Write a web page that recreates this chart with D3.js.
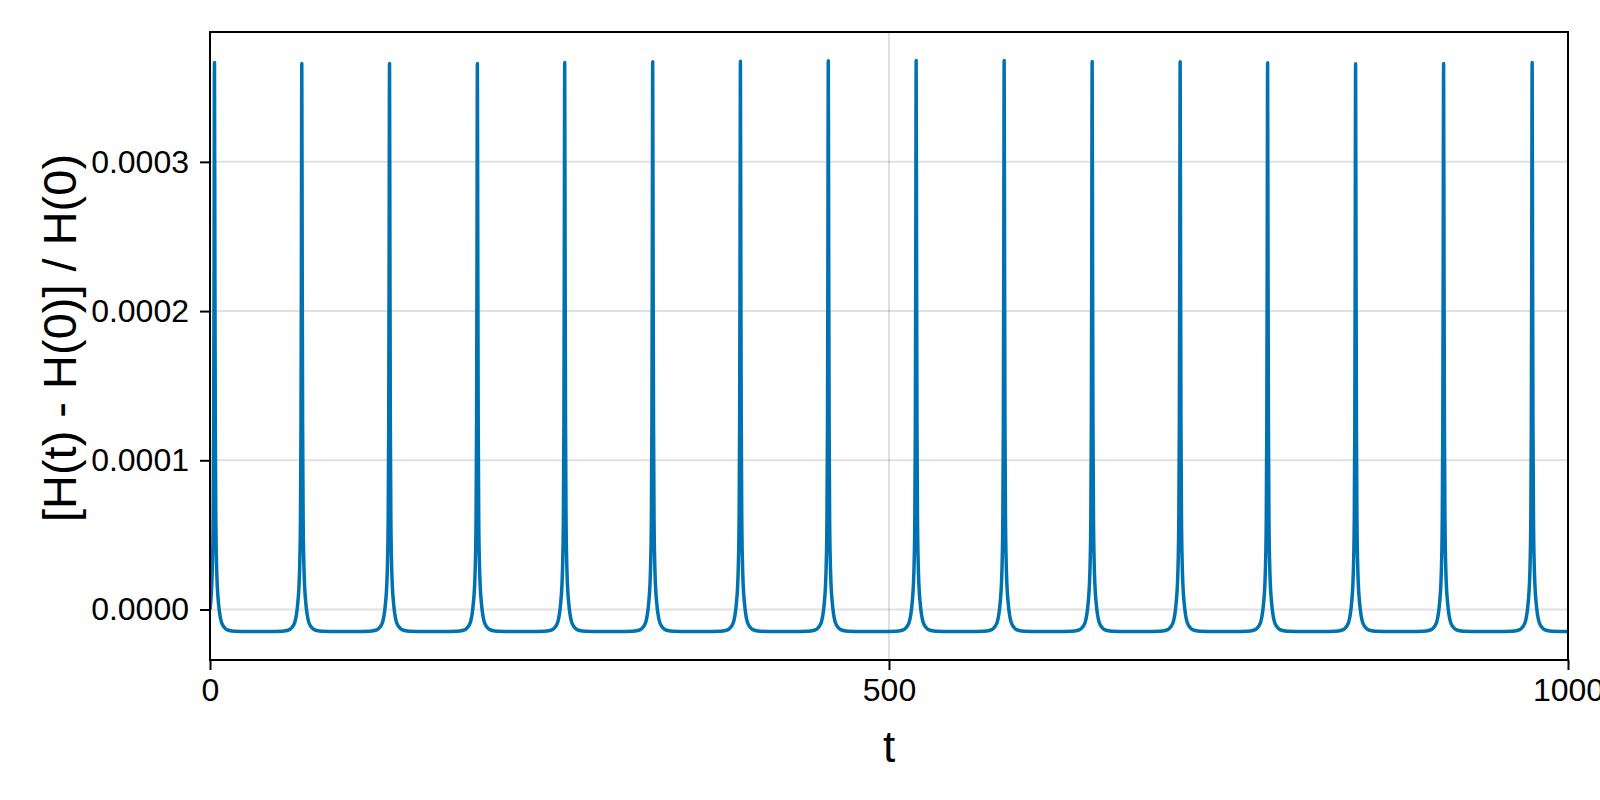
<!DOCTYPE html>
<html>
<head>
<meta charset="utf-8">
<script src="https://cdn.jsdelivr.net/npm/d3@7"></script>
<style>
  body { margin: 0; background: #fff; }
  svg { display: block; font-family: "Liberation Sans", Arial, sans-serif; }
</style>
</head>
<body>
<script>
// time samples, one row per spike (plus the last point)
const tValues = [
  0, 1.3, 1.8, 2.3, 2.7, 3.0, 3.3, 3.6, 3.9, 4.3, 4.8, 5.3, 6.3, 7.3, 8.3, 9.8, 11.8, 14.3, 18.3, 23.3,
  47.6, 52.6, 56.6, 59.1, 61.1, 62.6, 63.6, 64.6, 65.6, 66.1, 66.6, 67.0, 67.3, 67.6, 67.9, 68.2, 68.6, 69.1, 69.6, 70.6, 71.6, 72.6, 74.1, 76.1, 78.6, 82.6, 87.6,
  112.2, 117.2, 121.2, 123.7, 125.7, 127.2, 128.2, 129.2, 130.2, 130.7, 131.2, 131.6, 131.9, 132.2, 132.5, 132.8, 133.2, 133.7, 134.2, 135.2, 136.2, 137.2, 138.7, 140.7, 143.2, 147.2, 152.2,
  176.9, 181.9, 185.9, 188.4, 190.4, 191.9, 192.9, 193.9, 194.9, 195.4, 195.9, 196.3, 196.6, 196.9, 197.2, 197.5, 197.9, 198.4, 198.9, 199.9, 200.9, 201.9, 203.4, 205.4, 207.9, 211.9, 216.9,
  241.2, 246.2, 250.2, 252.7, 254.7, 256.2, 257.2, 258.2, 259.2, 259.7, 260.2, 260.6, 260.9, 261.2, 261.5, 261.8, 262.2, 262.7, 263.2, 264.2, 265.2, 266.2, 267.7, 269.7, 272.2, 276.2, 281.2,
  306.0, 311.0, 315.0, 317.5, 319.5, 321.0, 322.0, 323.0, 324.0, 324.5, 325.0, 325.4, 325.7, 326.0, 326.3, 326.6, 327.0, 327.5, 328.0, 329.0, 330.0, 331.0, 332.5, 334.5, 337.0, 341.0, 346.0,
  370.6, 375.6, 379.6, 382.1, 384.1, 385.6, 386.6, 387.6, 388.6, 389.1, 389.6, 390.0, 390.3, 390.6, 390.9, 391.2, 391.6, 392.1, 392.6, 393.6, 394.6, 395.6, 397.1, 399.1, 401.6, 405.6, 410.6,
  435.3, 440.3, 444.3, 446.8, 448.8, 450.3, 451.3, 452.3, 453.3, 453.8, 454.3, 454.7, 455.0, 455.3, 455.6, 455.9, 456.3, 456.8, 457.3, 458.3, 459.3, 460.3, 461.8, 463.8, 466.3, 470.3, 475.3,
  500.0, 505.0, 509.0, 511.5, 513.5, 515.0, 516.0, 517.0, 518.0, 518.5, 519.0, 519.4, 519.7, 520.0, 520.3, 520.6, 521.0, 521.5, 522.0, 523.0, 524.0, 525.0, 526.5, 528.5, 531.0, 535.0, 540.0,
  564.8, 569.8, 573.8, 576.3, 578.3, 579.8, 580.8, 581.8, 582.8, 583.3, 583.8, 584.2, 584.5, 584.8, 585.1, 585.4, 585.8, 586.3, 586.8, 587.8, 588.8, 589.8, 591.3, 593.3, 595.8, 599.8, 604.8,
  629.6, 634.6, 638.6, 641.1, 643.1, 644.6, 645.6, 646.6, 647.6, 648.1, 648.6, 649.0, 649.3, 649.6, 649.9, 650.2, 650.6, 651.1, 651.6, 652.6, 653.6, 654.6, 656.1, 658.1, 660.6, 664.6, 669.6,
  694.4, 699.4, 703.4, 705.9, 707.9, 709.4, 710.4, 711.4, 712.4, 712.9, 713.4, 713.8, 714.1, 714.4, 714.7, 715.0, 715.4, 715.9, 716.4, 717.4, 718.4, 719.4, 720.9, 722.9, 725.4, 729.4, 734.4,
  758.8, 763.8, 767.8, 770.3, 772.3, 773.8, 774.8, 775.8, 776.8, 777.3, 777.8, 778.2, 778.5, 778.8, 779.1, 779.4, 779.8, 780.3, 780.8, 781.8, 782.8, 783.8, 785.3, 787.3, 789.8, 793.8, 798.8,
  823.6, 828.6, 832.6, 835.1, 837.1, 838.6, 839.6, 840.6, 841.6, 842.1, 842.6, 843.0, 843.3, 843.6, 843.9, 844.2, 844.6, 845.1, 845.6, 846.6, 847.6, 848.6, 850.1, 852.1, 854.6, 858.6, 863.6,
  888.4, 893.4, 897.4, 899.9, 901.9, 903.4, 904.4, 905.4, 906.4, 906.9, 907.4, 907.8, 908.1, 908.4, 908.7, 909.0, 909.4, 909.9, 910.4, 911.4, 912.4, 913.4, 914.9, 916.9, 919.4, 923.4, 928.4,
  953.6, 958.6, 962.6, 965.1, 967.1, 968.6, 969.6, 970.6, 971.6, 972.1, 972.6, 973.0, 973.3, 973.6, 973.9, 974.2, 974.6, 975.1, 975.6, 976.6, 977.6, 978.6, 980.1, 982.1, 984.6, 988.6, 993.6,
  1000
];

// relative energy error at those times, in units of 1e-5
const dHe5 = [
  0, 1.7, 3.1, 6.0, 12.5, 23.5, 36.66, 23.5, 12.5, 6.0, 3.1, 1.7, 0.4, -0.37, -0.81, -1.12, -1.31, -1.41, -1.46, -1.47,
  -1.47, -1.46, -1.41, -1.31, -1.12, -0.81, -0.37, 0.4, 1.7, 3.1, 6.0, 12.5, 23.5, 36.59, 23.5, 12.5, 6.0, 3.1, 1.7, 0.4, -0.37, -0.81, -1.12, -1.31, -1.41, -1.46, -1.47,
  -1.47, -1.46, -1.41, -1.31, -1.12, -0.81, -0.37, 0.4, 1.7, 3.1, 6.0, 12.5, 23.5, 36.59, 23.5, 12.5, 6.0, 3.1, 1.7, 0.4, -0.37, -0.81, -1.12, -1.31, -1.41, -1.46, -1.47,
  -1.47, -1.46, -1.41, -1.31, -1.12, -0.81, -0.37, 0.4, 1.7, 3.1, 6.0, 12.5, 23.5, 36.59, 23.5, 12.5, 6.0, 3.1, 1.7, 0.4, -0.37, -0.81, -1.12, -1.31, -1.41, -1.46, -1.47,
  -1.47, -1.46, -1.41, -1.31, -1.12, -0.81, -0.37, 0.4, 1.7, 3.1, 6.0, 12.5, 23.5, 36.66, 23.5, 12.5, 6.0, 3.1, 1.7, 0.4, -0.37, -0.81, -1.12, -1.31, -1.41, -1.46, -1.47,
  -1.47, -1.46, -1.41, -1.31, -1.12, -0.81, -0.37, 0.4, 1.7, 3.1, 6.0, 12.5, 23.5, 36.71, 23.5, 12.5, 6.0, 3.1, 1.7, 0.4, -0.37, -0.81, -1.12, -1.31, -1.41, -1.46, -1.47,
  -1.47, -1.46, -1.41, -1.31, -1.12, -0.81, -0.37, 0.4, 1.7, 3.1, 6.0, 12.5, 23.5, 36.75, 23.5, 12.5, 6.0, 3.1, 1.7, 0.4, -0.37, -0.81, -1.12, -1.31, -1.41, -1.46, -1.47,
  -1.47, -1.46, -1.41, -1.31, -1.12, -0.81, -0.37, 0.4, 1.7, 3.1, 6.0, 12.5, 23.5, 36.77, 23.5, 12.5, 6.0, 3.1, 1.7, 0.4, -0.37, -0.81, -1.12, -1.31, -1.41, -1.46, -1.47,
  -1.47, -1.46, -1.41, -1.31, -1.12, -0.81, -0.37, 0.4, 1.7, 3.1, 6.0, 12.5, 23.5, 36.79, 23.5, 12.5, 6.0, 3.1, 1.7, 0.4, -0.37, -0.81, -1.12, -1.31, -1.41, -1.46, -1.47,
  -1.47, -1.46, -1.41, -1.31, -1.12, -0.81, -0.37, 0.4, 1.7, 3.1, 6.0, 12.5, 23.5, 36.79, 23.5, 12.5, 6.0, 3.1, 1.7, 0.4, -0.37, -0.81, -1.12, -1.31, -1.41, -1.46, -1.47,
  -1.47, -1.46, -1.41, -1.31, -1.12, -0.81, -0.37, 0.4, 1.7, 3.1, 6.0, 12.5, 23.5, 36.73, 23.5, 12.5, 6.0, 3.1, 1.7, 0.4, -0.37, -0.81, -1.12, -1.31, -1.41, -1.46, -1.47,
  -1.47, -1.46, -1.41, -1.31, -1.12, -0.81, -0.37, 0.4, 1.7, 3.1, 6.0, 12.5, 23.5, 36.71, 23.5, 12.5, 6.0, 3.1, 1.7, 0.4, -0.37, -0.81, -1.12, -1.31, -1.41, -1.46, -1.47,
  -1.47, -1.46, -1.41, -1.31, -1.12, -0.81, -0.37, 0.4, 1.7, 3.1, 6.0, 12.5, 23.5, 36.64, 23.5, 12.5, 6.0, 3.1, 1.7, 0.4, -0.37, -0.81, -1.12, -1.31, -1.41, -1.46, -1.47,
  -1.47, -1.46, -1.41, -1.31, -1.12, -0.81, -0.37, 0.4, 1.7, 3.1, 6.0, 12.5, 23.5, 36.57, 23.5, 12.5, 6.0, 3.1, 1.7, 0.4, -0.37, -0.81, -1.12, -1.31, -1.41, -1.46, -1.47,
  -1.47, -1.46, -1.41, -1.31, -1.12, -0.81, -0.37, 0.4, 1.7, 3.1, 6.0, 12.5, 23.5, 36.59, 23.5, 12.5, 6.0, 3.1, 1.7, 0.4, -0.37, -0.81, -1.12, -1.31, -1.41, -1.46, -1.47,
  -1.47, -1.46, -1.41, -1.31, -1.12, -0.81, -0.37, 0.4, 1.7, 3.1, 6.0, 12.5, 23.5, 36.66, 23.5, 12.5, 6.0, 3.1, 1.7, 0.4, -0.37, -0.81, -1.12, -1.31, -1.41, -1.46, -1.47,
  -1.47
];

const xTicks = [0, 500, 1000];
const yTicks = [0, 0.0001, 0.0002, 0.0003];
const xLabel = "t";
const yLabel = "[H(t) - H(0)] / H(0)";

const w = 1600;
const h = 800;
const margin = { left: 210, right: 32, top: 32, bottom: 140 };
const innerW = w - margin.left - margin.right;
const innerH = h - margin.top - margin.bottom;

const data = tValues.map((t, i) => ({ t: t, v: dHe5[i] * 1e-5 }));

// x limits fixed, y limits like Makie: 5% padding around the data
const [yMin, yMax] = d3.extent(data, (d) => d.v);
const pad = (yMax - yMin) * 0.05;

const x = d3.scaleLinear().domain([0, 1000]).range([0, innerW]);
const y = d3.scaleLinear().domain([yMin - pad, yMax + pad]).range([innerH, 0]);

const svg = d3
  .select("body")
  .append("svg")
  .attr("width", w)
  .attr("height", h);

const g = svg
  .append("g")
  .attr("transform", `translate(${margin.left}, ${margin.top})`);

// grid
g.append("g")
  .selectAll("line")
  .data(yTicks)
  .enter()
  .append("line")
  .attr("x1", 0)
  .attr("x2", innerW)
  .attr("y1", (d) => y(d))
  .attr("y2", (d) => y(d))
  .attr("stroke", "rgba(0,0,0,0.12)")
  .attr("stroke-width", 2);

g.append("g")
  .selectAll("line")
  .data(xTicks)
  .enter()
  .append("line")
  .attr("x1", (d) => x(d))
  .attr("x2", (d) => x(d))
  .attr("y1", 0)
  .attr("y2", innerH)
  .attr("stroke", "rgba(0,0,0,0.12)")
  .attr("stroke-width", 2);

g.append("clipPath")
  .attr("id", "clip")
  .append("rect")
  .attr("width", innerW)
  .attr("height", innerH);

const line = d3
  .line()
  .curve(d3.curveMonotoneX)
  .x((d) => x(d.t))
  .y((d) => y(d.v));

g.append("path")
  .datum(data)
  .attr("clip-path", "url(#clip)")
  .attr("fill", "none")
  .attr("stroke", "#0072b2")
  .attr("stroke-width", 3.5)
  .attr("stroke-linejoin", "round")
  .attr("d", line);

// frame
g.append("rect")
  .attr("width", innerW)
  .attr("height", innerH)
  .attr("fill", "none")
  .attr("stroke", "#000")
  .attr("stroke-width", 2);

// axes
const xAxis = g
  .append("g")
  .attr("transform", `translate(0, ${innerH})`)
  .call(d3.axisBottom(x).tickValues(xTicks).tickSize(10).tickPadding(8).tickFormat(d3.format("d")));

const yAxis = g
  .append("g")
  .call(d3.axisLeft(y).tickValues(yTicks).tickSize(10).tickPadding(11).tickFormat(d3.format(".4f")));

[xAxis, yAxis].forEach((a) => {
  a.select(".domain").remove();
  a.selectAll(".tick line").attr("stroke", "#000").attr("stroke-width", 2);
  a.selectAll(".tick text")
    .attr("fill", "#000")
    .style("font-family", '"Liberation Sans", Arial, sans-serif')
    .style("font-size", "32px");
});

svg.append("text")
  .attr("x", margin.left + innerW / 2)
  .attr("y", 762)
  .attr("text-anchor", "middle")
  .style("font-size", "44px")
  .text(xLabel);

svg.append("text")
  .attr("transform", `translate(76, ${margin.top + innerH / 2 - 8}) rotate(-90)`)
  .attr("text-anchor", "middle")
  .style("font-size", "47px")
  .text(yLabel);
</script>
</body>
</html>
